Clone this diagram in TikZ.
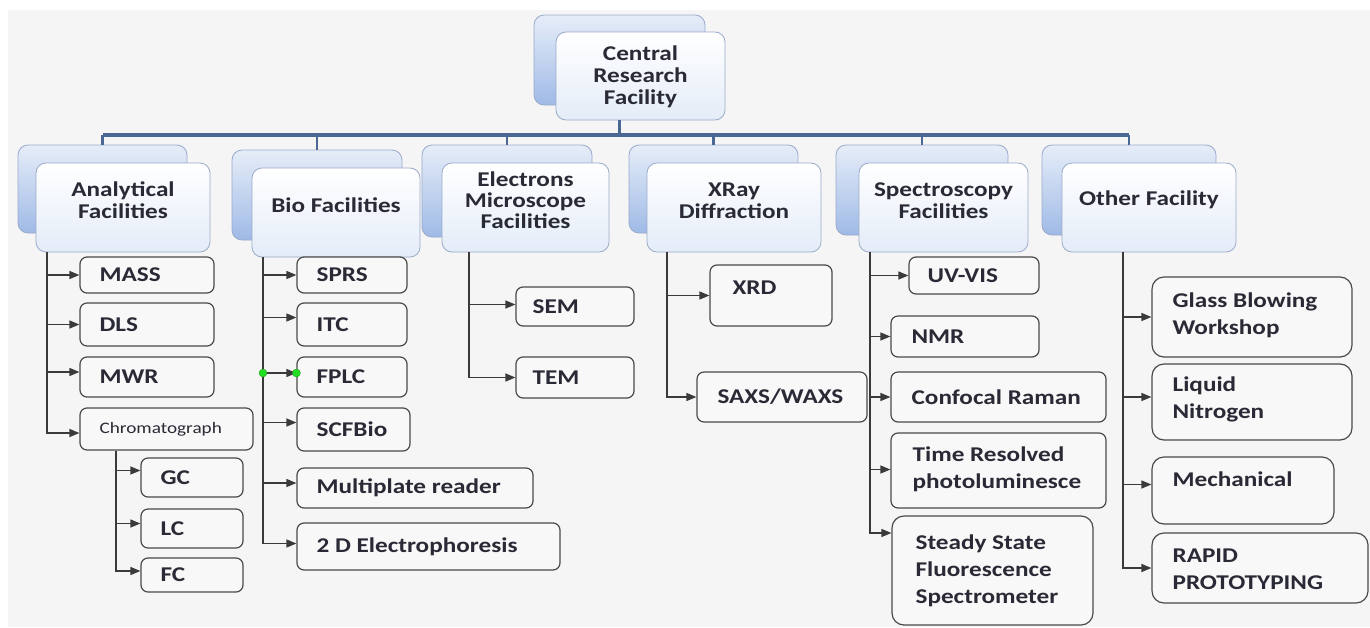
\documentclass[tikz,border=0pt]{standalone}
\usepackage{fontspec}
\setmainfont{Carlito}[FakeStretch=1.2]
\usetikzlibrary{arrows.meta,fit}
\definecolor{bgc}{HTML}{F5F5F5}
\definecolor{btop}{HTML}{E6EDF8}
\definecolor{bbot}{HTML}{9FBAE6}
\definecolor{bbord}{HTML}{98AACB}
\definecolor{fbot}{HTML}{E4ECF8}
\definecolor{fbord}{HTML}{9AABC9}
\definecolor{txt}{HTML}{2A2A36}
\definecolor{ibord}{HTML}{4A4A4A}
\definecolor{ifill}{HTML}{F8F8F8}
\definecolor{lnc}{HTML}{3A3A3A}
\definecolor{busc}{HTML}{4B6793}
\definecolor{handle}{HTML}{22DD22}
% #1 trunk coordinate, #2 child node, #3 vertical shift of arrow end
\newcommand{\branchto}[3]{%
  \coordinate (#2in) at ([yshift=#3]#2.west);
  \draw[arr] (#1 |- #2in) -- (#2in);}
\begin{document}
\begin{tikzpicture}[x=1pt,y=-1pt,
  backbox/.style={draw=bbord, line width=0.8pt, rounded corners=10pt, top color=btop, bottom color=bbot, inner sep=0pt},
  frontbox/.style={draw=fbord, line width=0.8pt, rounded corners=10pt, top color=white, bottom color=fbot, inner sep=0pt, font=\bfseries\fontsize{21}{22}\selectfont, text=txt, align=center},
  itm/.style={draw=ibord, line width=1.2pt, rounded corners=7pt, fill=ifill, inner sep=0pt},
  lbl/.style={font=\bfseries\fontsize{21}{27}\selectfont, text=txt, anchor=west, align=left, inner sep=0pt},
  small/.style={font=\fontsize{16}{18}\selectfont, text=txt, anchor=west, inner sep=0pt},
  arr/.style={draw=lnc, line width=1.3pt, -{Triangle[length=10pt,width=8pt]}},
  bus/.style={draw=busc, line width=3.5pt},
  drop/.style={draw=busc, line width=2.2pt},
  dot/.style={circle, fill=handle, draw=handle!70!black, line width=0.3pt, inner sep=0pt, minimum size=8pt}
]
\useasboundingbox (0,0) rectangle (1370,627);
\fill[white] (0,0) rectangle (1370,627);
\fill[bgc] (8,10) rectangle (1370,627);

% ---------- top level ----------
\node[backbox, fit={(534,15) (705,105)}] (cB) {};
\node[frontbox, fit={(556,32) (725,120)}] (cF) {};
\node[font=\bfseries\fontsize{21}{22}\selectfont, text=txt, align=center] (cT) at ([yshift=-1]cF.center) {Central\\Research\\Facility};

% ---------- level 1 ----------
\node[backbox, fit={(18,145) (187,233)}] (aB) {};
\node[frontbox, fit={(36,163) (210,252)}] (aF) {Analytical\\Facilities};
\node[backbox, fit={(232,150) (402,240)}] (bB) {};
\node[frontbox, fit={(252,168) (420,257)}] (bF) {Bio Facilities};
\node[backbox, fit={(422,145) (592,237)}] (eB) {};
\node[frontbox, fit={(442,163) (609,252)}, font=\bfseries\fontsize{21}{21}\selectfont] (eF) {Electrons\\Microscope\\Facilities};
\node[backbox, fit={(629,145) (798,233)}] (xB) {};
\node[frontbox, fit={(647,163) (821,252)}] (xF) {XRay\\Diffraction};
\node[backbox, fit={(836,145) (1008,235)}] (sB) {};
\node[frontbox, fit={(859,163) (1028,252)}] (sF) {Spectroscopy\\Facilities};
\node[backbox, fit={(1042,145) (1216,235)}] (oB) {};
\node[frontbox, fit={(1062,163) (1236,252)}] (oF) {Other Facility};

% ---------- bus ----------
\coordinate (busY) at (0,135);
\draw[drop] (cB.south |- cF.south) -- (cB.south |- busY);
\draw[bus] (aB.north |- busY) -- (oB.north |- busY);
\foreach \b in {aB,bB,eB,xB,sB,oB} {
  \draw[drop] (\b.north |- busY) -- (\b.north);
}

% ---------- Analytical ----------
\node[itm, fit={(80,257) (214,293)}] (mass) {};
\node[itm, fit={(80,303) (214,346)}] (dls) {};
\node[itm, fit={(80,357) (214,397)}] (mwr) {};
\node[itm, fit={(80,408) (253,450)}] (chrom) {};
\node[itm, fit={(141,458) (243,497)}] (gc) {};
\node[itm, fit={(141,509) (243,548)}] (lc) {};
\node[itm, fit={(141,558) (243,592)}] (fc) {};
\node[lbl] at ([xshift=20]mass.west) {MASS};
\node[lbl] at ([xshift=20]dls.west) {DLS};
\node[lbl] at ([xshift=20]mwr.west) {MWR};
\node[small] at ([xshift=20]chrom.west) {Chromatograph};
\node[lbl] at ([xshift=20]gc.west) {GC};
\node[lbl] at ([xshift=20]lc.west) {LC};
\node[lbl] at ([xshift=20]fc.west) {FC};
\coordinate (aT) at (47,0);
\coordinate (chromin) at ([yshift=-4]chrom.west);
\draw[arr] (aT |- aF.south) |- (chromin);
\branchto{aT}{mass}{0}
\branchto{aT}{dls}{0}
\branchto{aT}{mwr}{5}
\coordinate (cT2) at (116,0);
\coordinate (fcin) at ([yshift=4]fc.west);
\draw[arr] (cT2 |- chrom.south) |- (fcin);
\branchto{cT2}{gc}{7}
\branchto{cT2}{lc}{5}

% ---------- Bio ----------
\node[itm, fit={(297,257) (407,293)}] (sprs) {};
\node[itm, fit={(297,303) (407,346)}] (itc) {};
\node[itm, fit={(297,357) (407,397)}] (fplc) {};
\node[itm, fit={(297,408) (410,451)}] (scf) {};
\node[itm, fit={(297,468) (533,508)}] (mpr) {};
\node[itm, fit={(297,523) (560,570)}] (ed) {};
\node[lbl] at ([xshift=20]sprs.west) {SPRS};
\node[lbl] at ([xshift=20]itc.west) {ITC};
\node[lbl] at ([xshift=20]fplc.west) {FPLC};
\node[lbl] at ([xshift=20]scf.west) {SCFBio};
\node[lbl] at ([xshift=20]mpr.west) {Multiplate reader};
\node[lbl] at ([xshift=20]ed.west) {2 D Electrophoresis};
\coordinate (bT) at (263,0);
\coordinate (edin) at ([yshift=3]ed.west);
\draw[arr] (bT |- bF.south) |- (edin);
\branchto{bT}{sprs}{0}
\branchto{bT}{itc}{7}
\branchto{bT}{fplc}{4}
\branchto{bT}{scf}{7}
\branchto{bT}{mpr}{5}
\node[dot] (h1) at (bT |- fplcin) {};
\node[dot] (h2) at (fplcin) {};

% ---------- Electrons ----------
\node[itm, fit={(516,287) (634,326)}] (sem) {};
\node[itm, fit={(516,357) (634,398)}] (tem) {};
\node[lbl] at ([xshift=17]sem.west) {SEM};
\node[lbl] at ([xshift=17]tem.west) {TEM};
\coordinate (eT) at (469,0);
\draw[arr] (eT |- eF.south) |- (tem.west);
\branchto{eT}{sem}{2}

% ---------- XRay ----------
\node[itm, fit={(710,265) (832,326)}] (xrd) {};
\node[itm, fit={(697,372) (867,422)}] (saxs) {};
\node[lbl] at ([xshift=23,yshift=-23]xrd.north west) {XRD};
\node[lbl] at ([xshift=21]saxs.west) {SAXS/WAXS};
\coordinate (xT) at (667,0);
\draw[arr] (xT |- xF.south) |- (saxs.west);
\branchto{xT}{xrd}{0}

% ---------- Spectroscopy ----------
\node[itm, fit={(909,257) (1039,294)}] (uv) {};
\node[itm, fit={(891,316) (1039,357)}] (nmr) {};
\node[itm, fit={(891,372) (1106,422)}] (raman) {};
\node[itm, fit={(891,433) (1106,508)}] (trp) {};
\node[itm, fit={(892,516) (1093,625)}, rounded corners=12pt] (ss) {};
\node[lbl] at ([xshift=19]uv.west) {UV-VIS};
\node[lbl] at ([xshift=21]nmr.west) {NMR};
\node[lbl] at ([xshift=21]raman.west) {Confocal Raman};
\node[lbl] at ([xshift=22,yshift=1.5]trp.west) {Time Resolved\\photoluminesce};
\node[lbl] at ([xshift=24]ss.west) {Steady State\\Fluorescence\\Spectrometer};
\coordinate (sT) at (870,0);
\coordinate (ssin) at ([yshift=37.5]ss.west);
\draw[arr] (sT |- sF.south) |- (ssin);
\branchto{sT}{uv}{0}
\branchto{sT}{nmr}{0}
\branchto{sT}{raman}{0}
\branchto{sT}{trp}{1}

% ---------- Other ----------
\node[itm, fit={(1152,277) (1352,357)}, rounded corners=12pt] (glass) {};
\node[itm, fit={(1152,364) (1352,440)}, rounded corners=12pt] (ln2) {};
\node[itm, fit={(1152,457) (1334,524)}, rounded corners=12pt] (mech) {};
\node[itm, fit={(1152,533) (1368,603)}, rounded corners=12pt] (rapid) {};
\node[lbl] at ([xshift=21,yshift=2]glass.west) {Glass Blowing\\Workshop};
\node[lbl] at ([xshift=21,yshift=2.5]ln2.west) {Liquid\\Nitrogen};
\node[lbl] at ([xshift=21,yshift=11.5]mech.west) {Mechanical};
\node[lbl] at ([xshift=21,yshift=-1.5]rapid.west) {RAPID\\PROTOTYPING};
\coordinate (oT) at (1123,0);
\draw[arr] (oT |- oF.south) |- (rapid.west);
\branchto{oT}{glass}{0}
\branchto{oT}{ln2}{5}
\branchto{oT}{mech}{6}
\end{tikzpicture}
\end{document}
